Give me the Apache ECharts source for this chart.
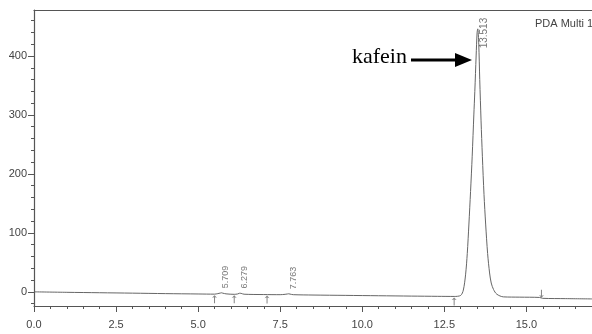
<!DOCTYPE html>
<html>
<head>
<meta charset="utf-8">
<script src="https://cdn.jsdelivr.net/npm/echarts@6/dist/echarts.min.js"></script>
<style>html,body{margin:0;padding:0;background:#fff;}#c{width:592px;height:334px;}</style>
</head>
<body>
<div id="c"></div>
<script>
// Chromatogram trace (retention time in min, signal in mAU)
const times = [0, 1, 2, 3, 4, 5, 5.5, 5.6, 5.68, 5.71, 5.75, 5.85, 6.1, 6.2, 6.26, 6.28, 6.31, 6.4, 7.0, 7.5, 7.65, 7.72, 7.76, 7.8, 7.9, 8.5, 9.5, 10.5, 11.5, 12.3, 12.8, 13.0, 13.08, 13.15, 13.2, 13.25, 13.3, 13.35, 13.4, 13.43, 13.47, 13.5, 13.52, 13.55, 13.58, 13.62, 13.66, 13.71, 13.76, 13.82, 13.88, 13.93, 14.0, 14.1, 14.3, 14.8, 15.4, 15.5, 16.2, 17];
const signal = [0, -0.8, -1.5, -2.2, -3, -3.6, -3.9, -3.0, -2.0, -1.6, -2.2, -3.4, -4.2, -3.6, -2.4, -2.0, -2.6, -4.0, -4.6, -4.8, -4.2, -3.6, -3.3, -3.8, -4.8, -5.4, -6.0, -6.6, -7.2, -7.6, -7.8, -6, 3, 30, 65, 115, 170, 230, 300, 340, 400, 440, 446, 420, 360, 290, 230, 165, 115, 65, 32, 15, 4, -4, -8.5, -9, -9.5, -11, -11.5, -12];
// Peak labels
const peakTimes = [5.709, 6.279, 7.763, 13.513];
const peakHeights = [-1.6, -2.0, -3.3, 446];
// Integration markers
const markerTimes = [5.50, 6.10, 7.10, 12.80, 15.46];
const markerLevels = [-3.9, -4.2, -4.6, -7.8, -10];
const markerDirs = ['up', 'up', 'up', 'up', 'down'];
// Axis ticks
const xMajor = [0, 2.5, 5, 7.5, 10, 12.5, 15];
const xMinor = [0.5, 1, 1.5, 2, 3, 3.5, 4, 4.5, 5.5, 6, 6.5, 7, 8, 8.5, 9, 9.5, 10.5, 11, 11.5, 12, 13, 13.5, 14, 14.5, 15.5, 16, 16.5];
const yMajor = [0, 100, 200, 300, 400];
const yMinor = [-20, 20, 40, 60, 80, 120, 140, 160, 180, 220, 240, 260, 280, 320, 340, 360, 380, 420, 440, 460];

const X_MIN = 0, X_MAX = 17, Y_MIN = -24, Y_MAX = 478;
const AX = '#555', TXT = '#444', FONT = 'Liberation Sans';

const trace = times.map((t, i) => [t, signal[i]]);
const labelData = peakTimes.map((t, i) => ({
  value: [t, peakHeights[i]],
  label: i === 3
    ? { position: [7, 20], fontSize: 10 }
    : { position: [5, -4], fontSize: 9 }
}));
const arrowPath = 'path://M3,0 L6,4 L3.6,3 L3.6,12 L2.4,12 L2.4,3 L0,4 Z';
const markerData = markerTimes.map((t, i) => ({
  value: [t, markerLevels[i]],
  symbolRotate: markerDirs[i] === 'up' ? 0 : 180,
  symbolOffset: markerDirs[i] === 'up' ? [0, 5] : [0, -4]
}));

const chart = echarts.init(document.getElementById('c'), null, {renderer: 'canvas'});
chart.setOption({
  animation: false,
  backgroundColor: '#fff',
  grid: { left: 34, right: 0, top: 10, bottom: 28, containLabel: false },
  xAxis: [
    { type: 'value', min: X_MIN, max: X_MAX, position: 'bottom',
      axisLine: { onZero: false, lineStyle: { color: AX, width: 1.2 } },
      axisTick: { customValues: xMajor, length: 6, lineStyle: { color: AX } },
      axisLabel: { customValues: xMajor, formatter: v => v.toFixed(1), color: TXT, fontFamily: FONT, fontSize: 11, margin: 13 },
      splitLine: { show: false } },
    { type: 'value', min: X_MIN, max: X_MAX, position: 'bottom', offset: 0,
      axisLine: { show: false, onZero: false },
      axisTick: { customValues: xMinor, length: 3, lineStyle: { color: AX } },
      axisLabel: { show: false }, splitLine: { show: false } },
    { type: 'value', min: X_MIN, max: X_MAX, position: 'top', offset: 0,
      axisLine: { show: true, onZero: false, lineStyle: { color: AX, width: 1.2 } },
      axisTick: { show: false }, axisLabel: { show: false }, splitLine: { show: false } }
  ],
  yAxis: [
    { type: 'value', min: Y_MIN, max: Y_MAX, position: 'left',
      axisLine: { show: true, onZero: false, lineStyle: { color: AX, width: 1.2 } },
      axisTick: { customValues: yMajor, length: 6, lineStyle: { color: AX } },
      axisLabel: { customValues: yMajor, color: TXT, fontFamily: FONT, fontSize: 11, margin: 7 },
      splitLine: { show: false } },
    { type: 'value', min: Y_MIN, max: Y_MAX, position: 'left', offset: 0,
      axisLine: { show: false, onZero: false },
      axisTick: { customValues: yMinor, length: 3, lineStyle: { color: AX } },
      axisLabel: { show: false }, splitLine: { show: false } }
  ],
  series: [
    { type: 'line', data: trace, showSymbol: false, smooth: 0.3,
      lineStyle: { color: '#666', width: 1 }, xAxisIndex: 0, yAxisIndex: 0, z: 3 },
    { type: 'scatter', data: labelData, symbolSize: 1, itemStyle: { color: 'rgba(0,0,0,0)' },
      label: { show: true, rotate: 90, align: 'left', verticalAlign: 'middle', color: '#555', fontFamily: FONT,
        formatter: p => p.value[0].toFixed(3) }, z: 4 },
    { type: 'scatter', data: markerData, symbol: arrowPath, symbolSize: [5, 8],
      itemStyle: { color: '#666' }, z: 4 }
  ],
  graphic: [
    { type: 'text', left: 535, top: 18, style: { text: 'PDA Multi 1', fill: '#444', font: '11px "Liberation Sans"' } },
    { type: 'text', left: 352, top: 46, style: { text: 'kafein', fill: '#000', font: '22px "Liberation Serif"' } },
    { type: 'line', shape: { x1: 411, y1: 60, x2: 458, y2: 60 }, style: { stroke: '#000', lineWidth: 3 } },
    { type: 'polygon', shape: { points: [[455, 53], [472, 60], [455, 67]] }, style: { fill: '#000' } }
  ]
});
</script>
</body>
</html>
